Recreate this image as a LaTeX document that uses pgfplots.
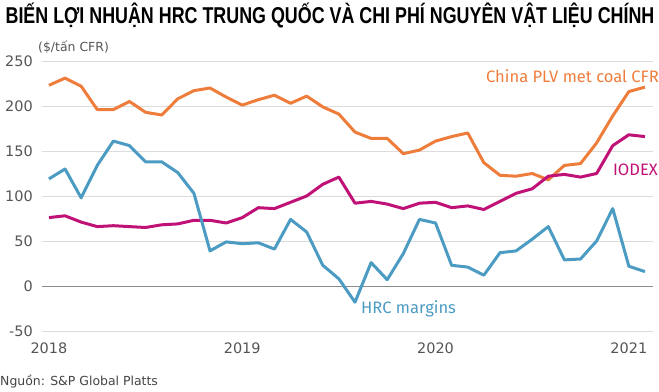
\documentclass[border=0pt]{standalone}
\usepackage{pgfplots}
\usepackage{pgfplotstable}
\pgfplotsset{compat=1.18}
\usepackage{fontspec}
\setmainfont{DejaVu Sans}
\newfontfamily\titlefont[FakeStretch=0.78]{Liberation Sans}
\newfontfamily\notefont{Fira Sans}
\definecolor{coal}{RGB}{238,125,59}
\definecolor{iodex}{RGB}{192,18,118}
\definecolor{hrc}{RGB}{75,155,195}
\definecolor{txtgray}{RGB}{85,85,85}
\definecolor{gridgray}{RGB}{220,220,220}
\definecolor{zerogray}{RGB}{140,140,140}

\pgfplotstableread{
m coal iodex hrc
0 223 76 119
1 231 78 130
2 222 71 98
3 196 66 134
4 196 67 161
5 205 66 156
6 193 65 138
7 190 68 138
8 208 69 126
9 217 73 103
10 220 73 39
11 210 70 49
12 201 76 47
13 207 87 48
14 212 86 41
15 203 93 74
16 211 100 60
17 199 113 23
18 191 121 8
19 171 92 -18
20 164 94 26
21 164 91 7
22 147 86 36
23 151 92 74
24 161 93 70
25 166 87 23
26 170 89 21
27 137 85 12
28 123 94 37
29 122 103 39
30 125 108 52
31 118 122 66
32 134 124 29
33 136 121 30
34 159 125 50
35 189 156 86
36 216 168 22
37 221 166 16
}\datatable

\begin{document}
\begin{tikzpicture}
\path[use as bounding box] (0,0) rectangle (659bp,392bp);
\begin{axis}[
  at={(42bp,61bp)}, anchor=south west,
  scale only axis, width=611bp, height=270bp,
  xmin=-0.43, xmax=37.5, ymin=-50, ymax=250,
  axis line style={draw=none},
  major tick length=0pt,
  xtick={0,12,24,36}, xticklabels={2018,2019,2020,2021},
  ytick={-50,50,100,150,200,250},
  extra y ticks={0},
  extra y tick style={grid style={zerogray, line width=0.8bp}},
  ymajorgrids, grid style={gridgray, line width=0.8bp},
  /pgf/number format/assume math mode=true,
  ticklabel style={font=\fontsize{14.5}{16}\selectfont, text=txtgray},
  yticklabel style={anchor=east, inner sep=0pt, xshift=-9bp},
  xticklabel style={anchor=north, inner sep=0pt, yshift=-12bp},
  clip=false,
]
\addplot[coal, line width=3bp, line join=round] table[x=m, y=coal] {\datatable};
\addplot[iodex, line width=3bp, line join=round] table[x=m, y=iodex] {\datatable};
\addplot[hrc, line width=3bp, line join=round] table[x=m, y=hrc] {\datatable};
\end{axis}
\node[anchor=center, inner sep=0pt, text=black] at (330bp,377bp) {\titlefont\bfseries\fontsize{23}{26}\selectfont BIẾN LỢI NHUẬN HRC TRUNG QUỐC VÀ CHI PHÍ NGUYÊN VẬT LIỆU CHÍNH};
\node[anchor=west, inner sep=0pt, text=txtgray] at (38bp,345bp) {\fontsize{12.5}{15}\selectfont (\$/tấn CFR)};
\node[anchor=east, inner sep=0pt, text=coal] at (659bp,316bp) {\notefont\fontsize{16.6}{18}\selectfont China PLV met coal CFR};
\node[anchor=east, inner sep=0pt, text=iodex] at (658bp,222bp) {\notefont\fontsize{16.6}{18}\selectfont IODEX};
\node[anchor=west, inner sep=0pt, text=hrc] at (361bp,83bp) {\notefont\fontsize{16.6}{18}\selectfont HRC margins};
\node[anchor=west, inner sep=0pt, text=txtgray!80!black] at (0bp,10bp) {\fontsize{12.5}{15}\selectfont Nguồn: S\&P Global Platts};
\end{tikzpicture}
\end{document}
